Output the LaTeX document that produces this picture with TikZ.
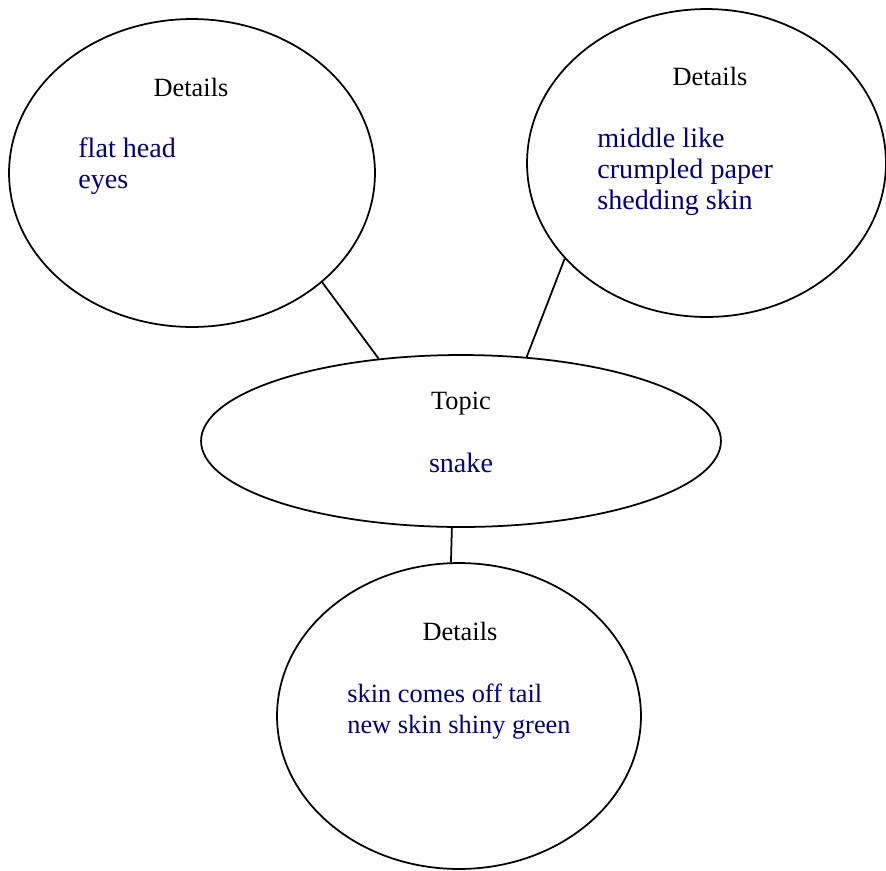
\documentclass[tikz,border=0pt]{standalone}
\usepackage{xcolor}
\usepackage{fontspec}
\setmainfont{Liberation Serif}
\usetikzlibrary{shapes.geometric}
\definecolor{detailblue}{RGB}{0,0,128}

\begin{document}
\begin{tikzpicture}[x=0.02cm,y=-0.02cm,
  bubble/.style={ellipse,draw,black,line width=1pt,inner sep=0pt},
  head/.style={anchor=base,black,inner sep=0pt,font=\fontsize{15}{17.6}\selectfont},
  info/.style={anchor=base west,detailblue,align=left,inner sep=0pt,font=\fontsize{16}{17.6}\selectfont}]
\useasboundingbox (0,0) rectangle (886,870);

\node[bubble,minimum width=7.32cm,minimum height=6.16cm](d1) at (192,173){};
\node[bubble,minimum width=7.18cm,minimum height=6.16cm](d2) at (706.5,163){};
\node[bubble,minimum width=10.4cm,minimum height=3.44cm](topic) at (461,441){};
\node[bubble,minimum width=7.28cm,minimum height=6.12cm](d3) at (459,716){};

\node[head](h1) at (191,96){Details};
\node[info](t1) at (78,188){flat head\\eyes};

\node[head](h2) at (710,85){Details};
\node[info](t2) at (597,209){middle like\\crumpled paper\\shedding skin};

\node[head](h0) at (461,409){Topic};
\node[head,detailblue,font=\fontsize{16}{17.6}\selectfont](t0) at (461,472){snake};

\node[head](h3) at (460,640){Details};
\node[info,font=\fontsize{15}{17.6}\selectfont](t3) at (347,733){skin comes off tail\\new skin shiny green};

\draw[black,line width=1pt](d1.-40) -- (topic.135);
\draw[black,line width=1pt](d2.-146) -- (topic.52);
\draw[black,line width=1pt](topic.-96) -- (d3.93);

\end{tikzpicture}
\end{document}
